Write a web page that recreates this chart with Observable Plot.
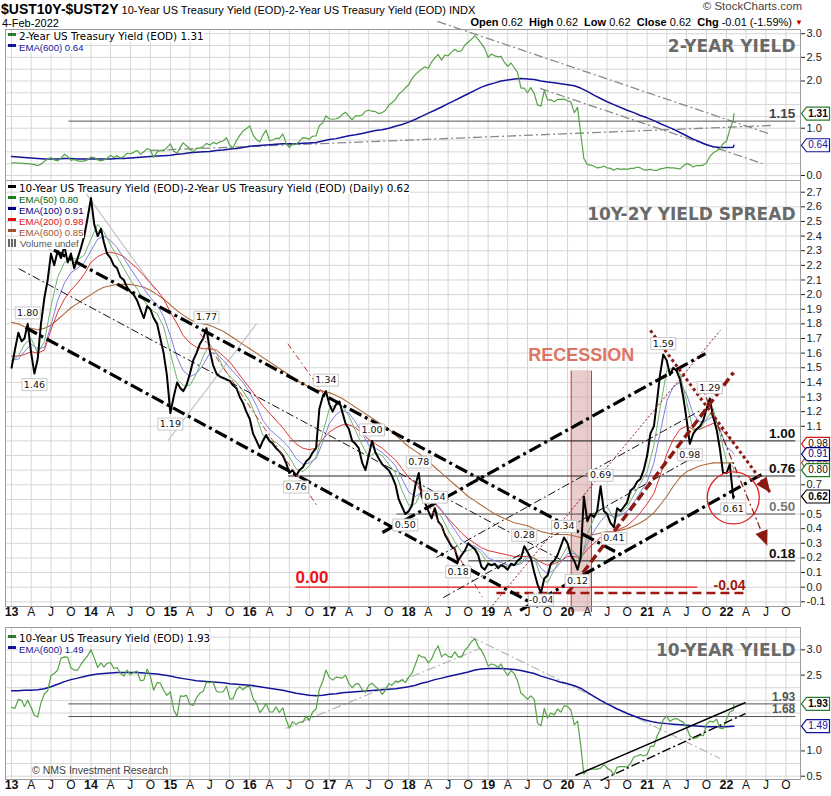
<!DOCTYPE html>
<html>
<head>
<meta charset="utf-8">
<script src="https://cdn.jsdelivr.net/npm/d3@7"></script>
<script src="https://cdn.jsdelivr.net/npm/@observablehq/plot@0.6"></script>
<style>
  body { margin: 0; background: #fff; }
  #chart { position: relative; width: 831px; height: 796px; overflow: hidden; background: #fff;
           font-family: "Liberation Sans", Arial, sans-serif; color: #000; }
  #chart svg { position: absolute; left: 0; }
  .abs { position: absolute; white-space: nowrap; line-height: 1.15; }
  .legend { position: absolute; left: 8px; }
  .legend div { height: 11px; line-height: 11px; white-space: nowrap; }
  .legend span { background: #fff; }
  .legend .sw { display: inline-block; width: 8px; height: 3px; vertical-align: middle; margin-right: 3px; position: relative; top: -1px; }
</style>
</head>
<body>
<div id="chart"></div>
<script>
// ---------------------------------------------------------------------------
// Data: half-monthly closes (1st and 16th of each month, Jan 2013 - Feb 2022),
// the last entry is the close of 4-Feb-2022.
// ---------------------------------------------------------------------------
const SPREAD = [
  1.50, 1.62, 1.74, 1.68, 1.70, 1.80, 1.60, 1.46, 1.56, 1.80, 1.98, 2.10, 2.28, 2.20, 2.30, 2.25, 2.33, 2.22, 2.28, 2.18, 2.25, 2.32, 2.40, 2.52,
  2.66, 2.48, 2.40, 2.45, 2.36, 2.28, 2.25, 2.20, 2.18, 2.12, 2.10, 2.05, 2.02, 2.00, 1.96, 1.90, 1.84, 1.92, 1.90, 1.84, 1.80, 1.70, 1.60, 1.45,
  1.19, 1.30, 1.40, 1.36, 1.34, 1.38, 1.46, 1.55, 1.60, 1.66, 1.70, 1.77, 1.62, 1.52, 1.46, 1.44, 1.43, 1.42, 1.41, 1.38, 1.36, 1.30, 1.26, 1.20,
  1.15, 1.05, 1.00, 0.95, 1.00, 1.04, 1.00, 0.98, 0.95, 0.93, 0.90, 0.85, 0.78, 0.80, 0.76, 0.80, 0.82, 0.86, 0.88, 0.92, 0.95, 1.22, 1.30, 1.34,
  1.25, 1.20, 1.25, 1.27, 1.20, 1.12, 1.08, 1.00, 0.98, 0.95, 0.85, 0.80, 0.90, 1.00, 0.92, 0.88, 0.84, 0.82, 0.80, 0.76, 0.70, 0.60, 0.55, 0.50,
  0.52, 0.56, 0.70, 0.78, 0.62, 0.58, 0.52, 0.47, 0.54, 0.45, 0.42, 0.36, 0.32, 0.28, 0.26, 0.18, 0.22, 0.25, 0.30, 0.28, 0.26, 0.22, 0.14, 0.12,
  0.16, 0.15, 0.16, 0.13, 0.15, 0.14, 0.12, 0.16, 0.15, 0.18, 0.20, 0.28, 0.24, 0.20, 0.10, 0.02, -0.04, 0.06, 0.08, 0.16, 0.18, 0.22, 0.28, 0.34,
  0.30, 0.22, 0.18, 0.12, 0.20, 0.62, 0.45, 0.50, 0.48, 0.52, 0.69, 0.52, 0.50, 0.44, 0.41, 0.54, 0.52, 0.55, 0.58, 0.66, 0.68, 0.72, 0.74, 0.80,
  0.90, 1.05, 1.10, 1.28, 1.45, 1.59, 1.55, 1.45, 1.50, 1.48, 1.42, 1.30, 1.15, 0.98, 1.05, 1.08, 1.10, 1.14, 1.22, 1.29, 1.16, 1.08, 0.95, 0.78,
  0.78, 0.84, 0.61, 0.62
];
const YIELD_2Y = [
  0.26, 0.27, 0.26, 0.26, 0.25, 0.25, 0.24, 0.23, 0.21, 0.24, 0.30, 0.35, 0.38, 0.33, 0.31, 0.36, 0.45, 0.40, 0.32, 0.34, 0.31, 0.30, 0.31, 0.33,
  0.39, 0.38, 0.33, 0.31, 0.33, 0.36, 0.43, 0.38, 0.42, 0.37, 0.40, 0.47, 0.46, 0.49, 0.53, 0.45, 0.50, 0.57, 0.54, 0.38, 0.50, 0.53, 0.52, 0.59,
  0.67, 0.52, 0.47, 0.60, 0.69, 0.63, 0.56, 0.50, 0.58, 0.58, 0.61, 0.68, 0.64, 0.70, 0.67, 0.71, 0.73, 0.80, 0.64, 0.58, 0.74, 0.85, 0.94, 0.99,
  1.05, 0.86, 0.76, 0.71, 0.85, 0.96, 0.73, 0.75, 0.79, 0.78, 0.88, 0.69, 0.59, 0.67, 0.66, 0.72, 0.80, 0.79, 0.77, 0.83, 0.84, 1.06, 1.11, 1.26,
  1.20, 1.19, 1.20, 1.23, 1.29, 1.34, 1.25, 1.18, 1.26, 1.26, 1.28, 1.36, 1.38, 1.36, 1.35, 1.31, 1.33, 1.38, 1.49, 1.54, 1.61, 1.72, 1.78, 1.85,
  1.92, 2.05, 2.14, 2.20, 2.25, 2.30, 2.27, 2.40, 2.49, 2.56, 2.44, 2.55, 2.53, 2.61, 2.67, 2.62, 2.64, 2.76, 2.82, 2.88, 2.96, 2.88, 2.79, 2.69,
  2.50, 2.57, 2.53, 2.51, 2.52, 2.40, 2.31, 2.38, 2.28, 2.18, 1.85, 1.85, 1.75, 1.86, 1.73, 1.49, 1.47, 1.80, 1.60, 1.60, 1.56, 1.61, 1.61, 1.62,
  1.58, 1.56, 1.33, 1.44, 0.91, 0.36, 0.23, 0.22, 0.20, 0.16, 0.17, 0.20, 0.16, 0.15, 0.11, 0.15, 0.13, 0.14, 0.13, 0.15, 0.15, 0.18, 0.16, 0.12,
  0.12, 0.13, 0.11, 0.11, 0.14, 0.15, 0.17, 0.16, 0.16, 0.15, 0.14, 0.20, 0.25, 0.23, 0.18, 0.21, 0.21, 0.22, 0.27, 0.40, 0.48, 0.52, 0.57, 0.67,
  0.73, 0.97, 1.18, 1.31
];
const YIELD_10Y = [
  1.86, 1.84, 2.02, 2.00, 1.88, 2.00, 1.86, 1.70, 1.67, 1.95, 2.13, 2.19, 2.49, 2.53, 2.60, 2.83, 2.86, 2.85, 2.64, 2.60, 2.60, 2.71, 2.80, 2.88,
  3.00, 2.84, 2.65, 2.74, 2.66, 2.73, 2.75, 2.63, 2.65, 2.54, 2.48, 2.60, 2.51, 2.55, 2.58, 2.39, 2.40, 2.62, 2.48, 2.20, 2.35, 2.34, 2.20, 2.10,
  2.17, 1.82, 1.68, 2.09, 2.08, 2.10, 1.92, 1.90, 2.05, 2.14, 2.18, 2.36, 2.35, 2.36, 2.18, 2.16, 2.17, 2.28, 2.03, 2.03, 2.21, 2.27, 2.21, 2.27,
  2.27, 2.04, 1.94, 1.76, 1.83, 1.94, 1.77, 1.77, 1.87, 1.76, 1.85, 1.62, 1.45, 1.58, 1.52, 1.57, 1.57, 1.69, 1.60, 1.77, 1.83, 2.22, 2.37, 2.60,
  2.45, 2.40, 2.46, 2.45, 2.44, 2.50, 2.33, 2.25, 2.32, 2.33, 2.21, 2.16, 2.30, 2.34, 2.27, 2.22, 2.12, 2.20, 2.33, 2.30, 2.38, 2.37, 2.41, 2.35,
  2.46, 2.54, 2.72, 2.90, 2.86, 2.85, 2.74, 2.82, 2.97, 3.08, 2.86, 2.92, 2.87, 2.85, 2.96, 2.86, 2.86, 2.99, 3.06, 3.16, 3.22, 3.07, 2.99, 2.86,
  2.68, 2.72, 2.70, 2.65, 2.72, 2.59, 2.49, 2.59, 2.53, 2.39, 2.14, 2.09, 2.02, 2.09, 2.02, 1.55, 1.50, 1.84, 1.65, 1.75, 1.71, 1.83, 1.77, 1.89,
  1.88, 1.81, 1.52, 1.59, 1.13, 0.54, 0.62, 0.64, 0.64, 0.64, 0.66, 0.73, 0.66, 0.62, 0.53, 0.68, 0.69, 0.69, 0.68, 0.75, 0.88, 0.90, 0.93, 0.90,
  0.93, 1.09, 1.09, 1.30, 1.41, 1.62, 1.69, 1.58, 1.63, 1.64, 1.60, 1.57, 1.47, 1.30, 1.24, 1.26, 1.31, 1.30, 1.53, 1.59, 1.57, 1.63, 1.45, 1.44,
  1.63, 1.77, 1.80, 1.93
];

// Moving averages, first of each month (Jan 2013 - Feb 2022), last entry at the 4-Feb-2022 close.
const SPREAD_EMA50 = [
  1.55, 1.58, 1.66, 1.70, 1.60, 1.68, 1.92, 2.12, 2.22, 2.25, 2.24, 2.27,
  2.38, 2.48, 2.43, 2.34, 2.26, 2.18, 2.10, 2.04, 1.96, 1.90, 1.87, 1.78,
  1.60, 1.42, 1.38, 1.38, 1.46, 1.58, 1.66, 1.60, 1.50, 1.44, 1.40, 1.34,
  1.27, 1.16, 1.04, 1.00, 0.99, 0.95, 0.89, 0.81, 0.79, 0.83, 0.89, 1.05,
  1.22, 1.25, 1.24, 1.17, 1.07, 0.97, 0.89, 0.92, 0.90, 0.84, 0.78, 0.66,
  0.56, 0.57, 0.66, 0.62, 0.53, 0.48, 0.39, 0.31, 0.24, 0.25, 0.27, 0.23,
  0.16, 0.15, 0.15, 0.14, 0.15, 0.17, 0.22, 0.20, 0.07, 0.03, 0.12, 0.20,
  0.28, 0.24, 0.17, 0.36, 0.47, 0.53, 0.55, 0.47, 0.50, 0.55, 0.63, 0.71,
  0.79, 0.97, 1.22, 1.48, 1.50, 1.46, 1.27, 1.07, 1.08, 1.15, 1.22, 1.05,
  0.86, 0.82, 0.80
];
const SPREAD_EMA100 = [
  1.55, 1.56, 1.61, 1.66, 1.63, 1.64, 1.79, 1.96, 2.08, 2.15, 2.18, 2.22,
  2.30, 2.38, 2.40, 2.37, 2.32, 2.25, 2.18, 2.11, 2.04, 1.98, 1.93, 1.85,
  1.72, 1.57, 1.48, 1.44, 1.46, 1.52, 1.60, 1.60, 1.55, 1.50, 1.45, 1.40,
  1.33, 1.24, 1.14, 1.08, 1.04, 1.00, 0.95, 0.88, 0.84, 0.85, 0.88, 0.99,
  1.12, 1.18, 1.21, 1.19, 1.13, 1.05, 0.97, 0.95, 0.92, 0.88, 0.83, 0.74,
  0.65, 0.62, 0.65, 0.63, 0.58, 0.53, 0.46, 0.39, 0.32, 0.29, 0.28, 0.25,
  0.20, 0.18, 0.17, 0.15, 0.15, 0.16, 0.20, 0.20, 0.13, 0.09, 0.12, 0.17,
  0.23, 0.23, 0.20, 0.30, 0.38, 0.45, 0.50, 0.48, 0.49, 0.52, 0.58, 0.65,
  0.72, 0.85, 1.05, 1.27, 1.37, 1.40, 1.32, 1.18, 1.13, 1.14, 1.17, 1.08,
  0.96, 0.92, 0.91
];
const SPREAD_EMA200 = [
  1.58, 1.58, 1.59, 1.61, 1.60, 1.62, 1.76, 1.88, 1.97, 2.03, 2.08, 2.14,
  2.22, 2.26, 2.28, 2.29, 2.28, 2.26, 2.22, 2.18, 2.13, 2.08, 2.03, 1.97,
  1.88, 1.80, 1.72, 1.67, 1.64, 1.63, 1.63, 1.62, 1.58, 1.54, 1.48, 1.42,
  1.36, 1.30, 1.24, 1.19, 1.14, 1.09, 1.03, 0.98, 0.95, 0.94, 0.95, 1.01,
  1.06, 1.09, 1.11, 1.11, 1.09, 1.05, 1.01, 0.98, 0.95, 0.91, 0.87, 0.81,
  0.75, 0.71, 0.67, 0.62, 0.57, 0.52, 0.47, 0.42, 0.37, 0.33, 0.30, 0.27,
  0.25, 0.24, 0.23, 0.22, 0.21, 0.21, 0.21, 0.20, 0.17, 0.15, 0.16, 0.18,
  0.21, 0.21, 0.20, 0.26, 0.30, 0.34, 0.37, 0.38, 0.40, 0.42, 0.46, 0.51,
  0.57, 0.64, 0.76, 0.91, 1.01, 1.08, 1.10, 1.08, 1.08, 1.10, 1.12, 1.09,
  1.04, 0.99, 0.98
];
const SPREAD_EMA600 = [
  1.81, 1.80, 1.78, 1.77, 1.76, 1.77, 1.79, 1.83, 1.87, 1.91, 1.94, 1.97,
  2.00, 2.03, 2.05, 2.06, 2.07, 2.07, 2.07, 2.06, 2.05, 2.03, 2.00, 1.97,
  1.93, 1.89, 1.86, 1.83, 1.81, 1.80, 1.79, 1.77, 1.75, 1.72, 1.69, 1.66,
  1.63, 1.60, 1.57, 1.54, 1.51, 1.48, 1.45, 1.42, 1.39, 1.37, 1.35, 1.34,
  1.33, 1.31, 1.29, 1.26, 1.23, 1.20, 1.17, 1.14, 1.11, 1.08, 1.04, 1.00,
  0.96, 0.93, 0.90, 0.86, 0.82, 0.78, 0.74, 0.70, 0.66, 0.62, 0.59, 0.56,
  0.53, 0.50, 0.48, 0.46, 0.44, 0.43, 0.42, 0.40, 0.38, 0.37, 0.36, 0.36,
  0.36, 0.35, 0.34, 0.35, 0.36, 0.37, 0.38, 0.38, 0.39, 0.40, 0.42, 0.44,
  0.47, 0.51, 0.56, 0.62, 0.69, 0.75, 0.79, 0.81, 0.83, 0.84, 0.85, 0.85,
  0.85, 0.85, 0.85
];
const YIELD_2Y_EMA600 = [
  0.40, 0.39, 0.38, 0.37, 0.36, 0.35, 0.35, 0.35, 0.36, 0.36, 0.35, 0.35,
  0.35, 0.35, 0.35, 0.35, 0.36, 0.36, 0.37, 0.38, 0.39, 0.40, 0.41, 0.42,
  0.43, 0.45, 0.46, 0.48, 0.49, 0.50, 0.51, 0.53, 0.54, 0.56, 0.57, 0.59,
  0.62, 0.63, 0.64, 0.65, 0.66, 0.67, 0.67, 0.67, 0.68, 0.69, 0.70, 0.73,
  0.76, 0.78, 0.81, 0.84, 0.86, 0.89, 0.92, 0.95, 0.97, 1.00, 1.04, 1.08,
  1.13, 1.19, 1.25, 1.32, 1.38, 1.45, 1.52, 1.59, 1.66, 1.73, 1.80, 1.87,
  1.92, 1.96, 2.00, 2.02, 2.04, 2.05, 2.04, 2.03, 2.00, 1.98, 1.96, 1.94,
  1.92, 1.90, 1.85, 1.78, 1.70, 1.63, 1.56, 1.50, 1.44, 1.38, 1.33, 1.27,
  1.22, 1.16, 1.10, 1.04, 0.98, 0.91, 0.84, 0.77, 0.71, 0.65, 0.61, 0.59,
  0.59, 0.60, 0.64
];
const YIELD_10Y_EMA600 = [
  2.19, 2.19, 2.20, 2.20, 2.21, 2.23, 2.27, 2.32, 2.37, 2.41, 2.44, 2.47,
  2.50, 2.52, 2.53, 2.54, 2.55, 2.55, 2.55, 2.55, 2.54, 2.53, 2.52, 2.50,
  2.48, 2.45, 2.43, 2.41, 2.39, 2.38, 2.37, 2.36, 2.35, 2.33, 2.32, 2.31,
  2.30, 2.28, 2.26, 2.24, 2.22, 2.20, 2.17, 2.14, 2.12, 2.10, 2.09, 2.10,
  2.12, 2.13, 2.15, 2.16, 2.17, 2.18, 2.19, 2.20, 2.21, 2.22, 2.23, 2.25,
  2.27, 2.30, 2.34, 2.37, 2.41, 2.44, 2.47, 2.50, 2.53, 2.56, 2.60, 2.62,
  2.63, 2.63, 2.63, 2.62, 2.61, 2.59, 2.56, 2.53, 2.48, 2.44, 2.40, 2.36,
  2.33, 2.29, 2.24, 2.16, 2.08, 2.00, 1.93, 1.86, 1.80, 1.74, 1.69, 1.64,
  1.60, 1.57, 1.55, 1.54, 1.53, 1.52, 1.51, 1.50, 1.49, 1.48, 1.48, 1.48,
  1.48, 1.49, 1.49
];

// Turning points on the spread that carry a value label.
const SPREAD_PEAK_DATES = ["2013-03-16", "2015-06-16", "2016-12-16", "2017-07-16", "2018-02-16", "2018-05-01",
                           "2019-06-16", "2019-12-16", "2020-06-01", "2021-03-16", "2021-10-16"];
const SPREAD_TROUGH_DATES = ["2013-04-16", "2015-01-01", "2016-08-01", "2017-12-16", "2018-08-16", "2019-09-01",
                             "2020-02-16", "2020-08-01", "2021-07-16", "2022-02-01"];

// Horizontal support / resistance levels: [value, from, to]
const SPREAD_LEVELS = [[1.00, "2016-07-01", "2022-11-13"], [0.76, "2016-06-25", "2022-11-13"],
                       [0.50, "2017-11-05", "2022-11-13"], [0.18, "2018-10-02", "2022-11-13"]];
const SPREAD_ZERO = [0.00, "2016-07-29", "2021-08-19"];
const SPREAD_LOW_LEVEL = [-0.04, "2019-02-08", "2022-03-29"];
const TOP_LEVELS = [[1.15, "2013-09-19", "2022-11-13"]];
const BOTTOM_LEVELS = [[1.93, "2013-09-19", "2022-11-13"], [1.68, "2013-09-19", "2022-11-13"]];

// Trend lines: [from date, from value, to date, to value]
const SPREAD_CHANNEL_THICK = [
  ["2013-04-08", 2.382, "2020-09-09", 0.217],
  ["2013-03-06", 1.775, "2019-08-19", -0.133],
  ["2017-09-02", 0.374, "2021-09-26", 1.597],
  ["2019-05-28", -0.159, "2022-06-19", 0.777]
];
const SPREAD_CHANNEL_THIN = [
  ["2013-02-02", 2.178, "2019-11-29", 0.189],
  ["2018-05-08", 0.203, "2021-09-03", 1.208],
  ["2018-06-09", -0.071, "2021-09-03", 0.914]
];
const SPREAD_GREY = [
  ["2013-12-10", 2.69, "2014-10-25", 2.03],
  ["2014-12-20", 1.00, "2016-02-01", 1.80]
];
const SPREAD_RED_SHORT = [
  ["2015-05-18", 1.733, "2016-11-11", 0.545],
  ["2016-06-24", 1.664, "2016-12-05", 1.322],
  ["2018-02-14", 0.684, "2018-12-05", -0.068]
];
const SPREAD_RED_DASHED = [["2019-12-31", -0.043, "2022-02-02", 1.468]];
const SPREAD_RED_DOTTED_ARROW = [["2021-01-16", 1.755, "2022-07-21", 0.647]];
const SPREAD_RED_THIN_ARROW = [["2021-09-03", 1.392, "2022-07-07", 0.285]];
const SPREAD_RED_THIN = [["2018-12-28", -0.167, "2021-12-03", 1.755]];
const TOP_TRENDS = [
  ["2018-05-13", 3.26, "2022-07-11", 0.889],
  ["2019-08-28", 1.842, "2022-06-14", 0.254],
  ["2014-10-01", 0.529, "2022-07-30", 1.059]
];
const BOTTOM_GREY_TRENDS = [
  ["2018-10-11", 3.263, "2021-12-03", 0.85],
  ["2016-06-13", 1.444, "2018-11-25", 3.026]
];
const BOTTOM_CHANNEL = [
  ["2020-02-06", 0.514, "2022-03-29", 1.958],
  ["2020-06-01", 0.415, "2022-03-29", 1.74]
];

const RECESSION = {start: "2020-01-18", end: "2020-04-20"};
const RECESSION_TOP = 1.48, RECESSION_BOTTOM = -0.17;
const CIRCLE_CENTER = {date: "2022-02-01", value: 0.61};
const QUARTER_LETTERS = ["A", "J", "O"];

// ---------------------------------------------------------------------------
const chart = document.getElementById("chart");
const SANS = "'Liberation Sans', Arial, sans-serif";
const NARROW = "'Liberation Sans Narrow', 'Arial Narrow', 'Liberation Sans', sans-serif";
const VERD = "'DejaVu Sans', Verdana, sans-serif";
const GRID = "#d6d6d6";
const NAVY = "#14149a", GREEN = "#55a346";

const X_DOMAIN = [new Date(Date.UTC(2012, 11, 4)), new Date(Date.UTC(2022, 11, 7))];
const RANGE_X = [5, 800];
const CLOSE_DATE = new Date(Date.UTC(2022, 1, 4));
const halfMonthDates = d3.range(SPREAD.length - 1)
  .map(i => new Date(Date.UTC(2013 + Math.floor(i / 24), Math.floor((i % 24) / 2), i % 2 ? 16 : 1)))
  .concat([CLOSE_DATE]);
const monthDates = d3.range(SPREAD_EMA50.length - 1)
  .map(i => new Date(Date.UTC(2013 + Math.floor(i / 12), i % 12, 1)))
  .concat([CLOSE_DATE]);
const series = (values, dates) => values.map((value, i) => ({date: dates[i], value}));
const last = a => a[a.length - 1];
const day = s => new Date(s + "T00:00:00Z");
const segs = list => list.map(([a, v1, b, v2]) => ({x1: day(a), y1: v1, x2: day(b), y2: v2}));
const levels = list => list.map(([v, a, b]) => ({x1: day(a), x2: day(b), y: v}));
const LINK = {x1: "x1", y1: "y1", x2: "x2", y2: "y2"};

const spread = series(SPREAD, halfMonthDates);
const y2 = series(YIELD_2Y, halfMonthDates);
const y10 = series(YIELD_10Y, halfMonthDates);

const quarters = d3.utcMonth.every(3).range(day("2013-01-01"), day("2022-12-01"));
const years = quarters.filter(d => d.getUTCMonth() === 0);
const months = quarters.filter(d => d.getUTCMonth() !== 0);

const STYLE = {background: "transparent", overflow: "visible", fontFamily: SANS, fontSize: "11px"};
const TAG = {draw(ctx) { ctx.moveTo(1, 0); ctx.lineTo(6, -6.5); ctx.lineTo(29, -6.5); ctx.lineTo(29, 6.5); ctx.lineTo(6, 6.5); ctx.closePath(); }};
const HEAD = {draw(ctx) { ctx.moveTo(0, 0); ctx.lineTo(-6.5, 15); ctx.lineTo(6.5, 15); ctx.closePath(); }};
const BOX = {draw(ctx) { ctx.rect(-12.5, -6, 25, 12); }};

// Right-hand value axis; tick labels that sit under a value tag are left out.
function yAxis(ticks, tagValues, pxPerUnit) {
  const shown = ticks.filter(t => !tagValues.some(v => Math.abs(v - t) * pxPerUnit < 10));
  return Plot.axisY(shown, {anchor: "right", tickSize: 4, tickPadding: 2, tickFormat: d => d.toFixed(1),
    fontSize: 11, fontFamily: SANS, color: "#222", label: null});
}
function xAxes() {
  return [
    Plot.axisX(years, {anchor: "bottom", tickSize: 0, tickPadding: 1, label: null,
      tickFormat: d => String(d.getUTCFullYear()).slice(2), fontWeight: "bold", fontSize: 12.5, fontFamily: NARROW, color: "#111"}),
    Plot.axisX(months, {anchor: "bottom", tickSize: 0, tickPadding: 1, label: null,
      tickFormat: d => QUARTER_LETTERS[d.getUTCMonth() / 3 - 1], fontSize: 12, fontFamily: NARROW, color: "#111"})
  ];
}
function tags(list) {
  return list.flatMap(t => [
    Plot.dot([t.value], {y: d => d, frameAnchor: "right", symbol: TAG, fill: "white", stroke: t.color, strokeWidth: 1.2}),
    Plot.text([t.value], {y: d => d, frameAnchor: "right", dx: 17.5, textAnchor: "middle", text: d => d.toFixed(2), fill: t.text,
      fontWeight: t.bold ? "bold" : "normal", fontSize: 10, fontFamily: SANS})
  ]);
}
function title(text, dy) {
  return Plot.text([text], {frameAnchor: "top-right", dx: -5, dy, text: d => d, fontFamily: VERD,
    fontWeight: "bold", fontSize: 17, fill: "#6a6a6a"});
}
function levelMarks(list, color, textColor, size = 13.5) {
  const data = levels(list);
  return [
    Plot.link(data, {x1: "x1", x2: "x2", y1: "y", y2: "y", stroke: color, strokeWidth: 1}),
    Plot.text(data, {x: "x2", y: "y", text: d => d.y.toFixed(2), textAnchor: "end", dy: -7,
      fontWeight: "bold", fontSize: size, fontFamily: SANS, fill: textColor})
  ];
}
// Value callouts on turning points: a small white box with the value inside.
function pointLabels(data, dy) {
  return [
    Plot.dot(data, {x: "date", y: "value", dy, symbol: BOX, fill: "white", stroke: "#c8c8c8", strokeWidth: 1}),
    Plot.text(data, {x: "date", y: "value", text: d => d.value.toFixed(2), dy, fontSize: 9.5, fontFamily: VERD, fill: "#111"})
  ];
}
function place(svg, top) {
  svg.style.position = "absolute";
  svg.style.top = top + "px";
  svg.style.left = "0px";
  chart.appendChild(svg);
}

// ---------------------------- 2-year yield panel ---------------------------
const TOP_Y = [-0.106, 3.089];
const topTags = [{value: last(YIELD_2Y), color: "#2c7a2c", text: "#000", bold: true},
                 {value: last(YIELD_2Y_EMA600), color: NAVY, text: NAVY}];
place(Plot.plot({
  width: 831, height: 181, marginLeft: 5, marginRight: 31, marginTop: 29, marginBottom: 1,
  x: {type: "utc", domain: X_DOMAIN, range: RANGE_X, axis: null},
  y: {domain: TOP_Y, axis: null},
  style: STYLE,
  marks: [
    Plot.gridX(quarters, {stroke: GRID, strokeOpacity: 1}),
    Plot.gridY(d3.range(0, 13).map(i => i / 4), {stroke: GRID, strokeOpacity: 1}),
    Plot.frame({stroke: "#9c9c9c"}),
    yAxis(d3.range(0, 7).map(i => i / 2), topTags.map(t => t.value), 47.2),
    title("2-YEAR YIELD", 10),
    Plot.link(segs(TOP_TRENDS), {...LINK, stroke: "#8a8a8a", strokeWidth: 1.3, strokeDasharray: "9,3,2,3"}),
    ...levelMarks(TOP_LEVELS, "#555", "#444"),
    Plot.line(series(YIELD_2Y_EMA600, monthDates), {x: "date", y: "value", stroke: NAVY, strokeWidth: 1.5}),
    Plot.line(y2, {x: "date", y: "value", stroke: GREEN, strokeWidth: 1.2}),
    ...tags(topTags)
  ]
}), 0);

// ---------------------------- spread panel ---------------------------------
const MID_Y = [-0.132, 2.780];
const MID_H = 442, MID_MB = 16;
const xs = d3.scaleUtc(X_DOMAIN, RANGE_X);
const ysMid = d3.scaleLinear(MID_Y, [MID_H - MID_MB, 0]);
const headAngle = s => Math.atan2(xs(s.x2) - xs(s.x1), -(ysMid(s.y2) - ysMid(s.y1))) * 180 / Math.PI;
const dottedArrow = segs(SPREAD_RED_DOTTED_ARROW);
const thinArrow = segs(SPREAD_RED_THIN_ARROW);
const peaks = SPREAD_PEAK_DATES.map(s => spread.find(d => +d.date === +day(s)));
const troughs = SPREAD_TROUGH_DATES.map(s => spread.find(d => +d.date === +day(s)));
const rec = [{x1: day(RECESSION.start), x2: day(RECESSION.end), y1: RECESSION_BOTTOM, y2: RECESSION_TOP}];
const DARK_RED = "#8a1a12";
const midTags = [{value: last(SPREAD_EMA600), color: "#a0522d", text: "#a0522d"},
                 {value: last(SPREAD_EMA200), color: "#dd1111", text: "#111"},
                 {value: last(SPREAD_EMA100), color: "#000080", text: "#000080"},
                 {value: last(SPREAD_EMA50), color: "#1b7d1b", text: "#111"},
                 {value: last(SPREAD), color: "#000", text: "#000", bold: true}];

place(Plot.plot({
  width: 831, height: MID_H, marginLeft: 5, marginRight: 31, marginTop: 0, marginBottom: MID_MB,
  x: {type: "utc", domain: X_DOMAIN, range: RANGE_X},
  y: {domain: MID_Y, axis: null},
  style: STYLE,
  marks: [
    Plot.gridX(quarters, {stroke: GRID, strokeOpacity: 1}),
    Plot.gridY(d3.range(-1, 28).map(i => i / 10), {stroke: GRID, strokeOpacity: 1}),
    Plot.rect(rec, {x1: "x1", x2: "x2", y1: "y1", y2: "y2", fill: "#d39a9a", fillOpacity: 0.5}),
    Plot.link(rec, {x1: "x1", x2: "x1", y1: "y1", y2: "y2", stroke: "#e23030", strokeWidth: 1}),
    Plot.link(rec, {x1: "x2", x2: "x2", y1: "y1", y2: "y2", stroke: "#e23030", strokeWidth: 1}),
    ...levelMarks(SPREAD_LEVELS.filter(l => l[0] !== 0.50), "#222", "#111"),
    ...levelMarks(SPREAD_LEVELS.filter(l => l[0] === 0.50), "#555", "#777"),
    Plot.link(levels([SPREAD_ZERO]), {x1: "x1", x2: "x2", y1: "y", y2: "y", stroke: "#ee1111", strokeWidth: 1.3}),
    Plot.text(levels([SPREAD_ZERO]), {x: "x1", y: "y", text: d => d.y.toFixed(2), textAnchor: "start", dy: -10,
      fill: "#ee1111", fontWeight: "bold", fontSize: 17, fontFamily: SANS}),
    Plot.link(levels([SPREAD_LOW_LEVEL]), {x1: "x1", x2: "x2", y1: "y", y2: "y", stroke: "#a01812", strokeWidth: 2.5, strokeDasharray: "9,5"}),
    Plot.text(levels([SPREAD_LOW_LEVEL]), {x: "x2", y: "y", text: d => d.y.toFixed(2), textAnchor: "end", dy: -8,
      fill: "#a01812", fontWeight: "bold", fontSize: 14, fontFamily: SANS}),
    Plot.link(segs(SPREAD_GREY), {...LINK, stroke: "#c4c4c4", strokeWidth: 1.2}),
    Plot.line(series(SPREAD_EMA600, monthDates), {x: "date", y: "value", stroke: "#b06a3a", strokeWidth: 1.1}),
    Plot.line(series(SPREAD_EMA200, monthDates), {x: "date", y: "value", stroke: "#e03434", strokeWidth: 1}),
    Plot.line(series(SPREAD_EMA100, monthDates), {x: "date", y: "value", stroke: "#8080e0", strokeWidth: 1}),
    Plot.line(series(SPREAD_EMA50, monthDates), {x: "date", y: "value", stroke: "#6fb46f", strokeWidth: 1}),
    Plot.line(spread, {x: "date", y: "value", stroke: "#000", strokeWidth: 2}),
    Plot.link(segs(SPREAD_RED_SHORT), {...LINK, stroke: "#c0392b", strokeWidth: 1, strokeDasharray: "6,3,2,3"}),
    Plot.link(segs(SPREAD_CHANNEL_THIN), {...LINK, stroke: "#111", strokeWidth: 1, strokeDasharray: "8,3,2,3"}),
    Plot.link(segs(SPREAD_CHANNEL_THICK), {...LINK, stroke: "#000", strokeWidth: 3.2, strokeDasharray: "13,4,3,4"}),
    Plot.link(segs(SPREAD_RED_THIN), {...LINK, stroke: DARK_RED, strokeWidth: 1, strokeDasharray: "2,2"}),
    Plot.link(segs(SPREAD_RED_DASHED), {...LINK, stroke: DARK_RED, strokeWidth: 3.5, strokeDasharray: "9,4"}),
    Plot.link(dottedArrow, {...LINK, stroke: DARK_RED, strokeWidth: 3, strokeDasharray: "3,3"}),
    Plot.link(thinArrow, {...LINK, stroke: DARK_RED, strokeWidth: 1.2, strokeDasharray: "7,3,2,3"}),
    Plot.dot(dottedArrow, {x: "x2", y: "y2", symbol: HEAD, rotate: headAngle(dottedArrow[0]), fill: DARK_RED, stroke: "none"}),
    Plot.dot(thinArrow, {x: "x2", y: "y2", symbol: HEAD, rotate: headAngle(thinArrow[0]), fill: DARK_RED, stroke: "none"}),
    Plot.dot([CIRCLE_CENTER], {x: d => day(d.date), y: "value", r: 26, stroke: "#e52020", strokeWidth: 1.3, fill: "none"}),
    ...pointLabels(peaks, -11),
    ...pointLabels(troughs.filter(d => d.value >= 0), 11),
    ...pointLabels(troughs.filter(d => d.value < 0), 7),
    Plot.text(rec, {x: d => new Date((+d.x1 + +d.x2) / 2), y: "y2", text: () => "RECESSION", dy: -15,
      fill: "#de7464", fontWeight: "bold", fontSize: 18, fontFamily: SANS}),
    Plot.frame({stroke: "#9c9c9c"}),
    yAxis(d3.range(-1, 28).map(i => i / 10), midTags.map(t => t.value), 146.3),
    ...xAxes(),
    title("10Y-2Y YIELD SPREAD", 27),
    ...tags(midTags)
  ]
}), 180);

// ---------------------------- 10-year yield panel --------------------------
const BOT_Y = [0.435, 3.441];
const botTags = [{value: last(YIELD_10Y_EMA600), color: NAVY, text: NAVY},
                 {value: last(YIELD_10Y), color: "#2c7a2c", text: "#000", bold: true}];
place(Plot.plot({
  width: 831, height: 174, marginLeft: 5, marginRight: 31, marginTop: 5, marginBottom: 17,
  x: {type: "utc", domain: X_DOMAIN, range: RANGE_X},
  y: {domain: BOT_Y, axis: null},
  style: STYLE,
  marks: [
    Plot.gridX(quarters, {stroke: GRID, strokeOpacity: 1}),
    Plot.gridY(d3.range(2, 14).map(i => i / 4), {stroke: GRID, strokeOpacity: 1}),
    Plot.frame({stroke: "#9c9c9c"}),
    yAxis(d3.range(1, 7).map(i => i / 2), botTags.map(t => t.value), 50.6),
    ...xAxes(),
    title("10-YEAR YIELD", 16),
    Plot.link(segs(BOTTOM_GREY_TRENDS), {...LINK, stroke: "#b8b8b8", strokeWidth: 1.2, strokeDasharray: "9,3,2,3"}),
    ...levelMarks(BOTTOM_LEVELS, "#555", "#555", 12),
    Plot.line(series(YIELD_10Y_EMA600, monthDates), {x: "date", y: "value", stroke: NAVY, strokeWidth: 1.5}),
    Plot.line(y10, {x: "date", y: "value", stroke: GREEN, strokeWidth: 1.2}),
    Plot.link(segs(BOTTOM_CHANNEL).slice(0, 1), {...LINK, stroke: "#000", strokeWidth: 1.4}),
    Plot.link(segs(BOTTOM_CHANNEL).slice(1), {...LINK, stroke: "#000", strokeWidth: 1.4, strokeDasharray: "9,3,2,3"}),
    ...tags(botTags)
  ]
}), 622);

// ---------------------------- header and legends ---------------------------
function addHtml(html, style) {
  const el = document.createElement("div");
  el.className = "abs";
  el.innerHTML = html;
  Object.assign(el.style, style);
  chart.appendChild(el);
}
addHtml(`<span style="font:bold 14px ${SANS}">$UST10Y-$UST2Y</span><span style="font:11px ${SANS}"> 10-Year US Treasury Yield (EOD)-2-Year US Treasury Yield (EOD) INDX</span>`,
  {left: "1px", top: "0px"});
addHtml("4-Feb-2022", {left: "2px", top: "17px", font: `11px ${SANS}`});
addHtml("© StockCharts.com", {right: "29px", top: "0px", font: `11.5px ${SANS}`, color: "#444"});
addHtml(`<b>Open</b> ${last(SPREAD).toFixed(2)}&nbsp; <b>High</b> ${last(SPREAD).toFixed(2)}&nbsp; <b>Low</b> ${last(SPREAD).toFixed(2)}&nbsp; <b>Close</b> ${last(SPREAD).toFixed(2)}&nbsp; <b>Chg</b> -0.01 (-1.59%)`,
  {right: "39px", top: "16px", font: `11px ${SANS}`});
addHtml("▼", {left: "795px", top: "18px", font: `8px ${SANS}`, color: "#c00000"});
addHtml("© NMS Investment Research", {left: "32px", top: "764px", font: `10.5px ${NARROW}`, color: "#444"});

function legend(top, rows) {
  const box = document.createElement("div");
  box.className = "legend";
  box.style.top = top + "px";
  for (const r of rows) {
    const row = document.createElement("div");
    const sw = document.createElement("span");
    sw.className = "sw";
    sw.style.background = r.swatch;
    if (r.volume) { sw.style.height = "8px"; sw.style.width = "9px"; sw.style.top = "0px";
      sw.style.background = "repeating-linear-gradient(90deg,#666 0 2px,#fff 2px 3px)"; }
    const tx = document.createElement("span");
    tx.textContent = r.text;
    tx.style.color = r.color;
    tx.style.font = r.font;
    row.append(sw, tx);
    box.append(row);
  }
  chart.appendChild(box);
}
const F_MAIN = `10.4px ${VERD}`, F_EMA = `9.6px ${SANS}`;
legend(29, [
  {swatch: "#2c7a2c", color: "#000", font: F_MAIN, text: `2-Year US Treasury Yield (EOD) ${last(YIELD_2Y).toFixed(2)}`},
  {swatch: NAVY, color: NAVY, font: F_EMA, text: `EMA(600) ${last(YIELD_2Y_EMA600).toFixed(2)}`}
]);
legend(181, [
  {swatch: "#000", color: "#000", font: F_MAIN, text: `10-Year US Treasury Yield (EOD)-2-Year US Treasury Yield (EOD) (Daily) ${last(SPREAD).toFixed(2)}`},
  {swatch: "#1b7d1b", color: "#006400", font: F_EMA, text: `EMA(50) ${last(SPREAD_EMA50).toFixed(2)}`},
  {swatch: "#000080", color: "#000080", font: F_EMA, text: `EMA(100) ${last(SPREAD_EMA100).toFixed(2)}`},
  {swatch: "#dd1111", color: "#dd1111", font: F_EMA, text: `EMA(200) ${last(SPREAD_EMA200).toFixed(2)}`},
  {swatch: "#a0522d", color: "#a0522d", font: F_EMA, text: `EMA(600) ${last(SPREAD_EMA600).toFixed(2)}`},
  {volume: true, color: "#555", font: F_EMA, text: "Volume undef"}
]);
legend(631, [
  {swatch: "#2c7a2c", color: "#000", font: F_MAIN, text: `10-Year US Treasury Yield (EOD) ${last(YIELD_10Y).toFixed(2)}`},
  {swatch: NAVY, color: NAVY, font: F_EMA, text: `EMA(600) ${last(YIELD_10Y_EMA600).toFixed(2)}`}
]);
</script>
</body>
</html>
